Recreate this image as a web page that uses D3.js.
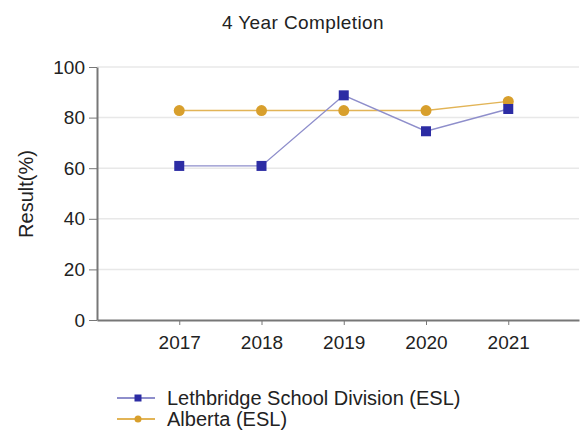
<!DOCTYPE html>
<html>
<head>
<meta charset="utf-8">
<script src="https://cdn.jsdelivr.net/npm/d3@7"></script>
<style>
    body { margin: 0; background: #fff; }
    svg { font-family: 'Liberation Sans', Arial, sans-serif; display: block; }
    .grid line { stroke: #e8e8e8; stroke-width: 1.5px; }
    .axis path, .axis line { stroke: #777; }
    .axis path { stroke-width: 2px; }
    .axis text { font-size: 19px; fill: #222; }
</style>
</head>
<body>
<div id="chart"></div>
<script>
// chart values
const years = [2017, 2018, 2019, 2020, 2021];
const lethbridge = [60.9, 60.9, 88.8, 74.6, 83.4];
const alberta = [82.8, 82.8, 82.8, 82.8, 86.4];
const yTicks = [0, 20, 40, 60, 80, 100];

const series = [
    {name: 'Lethbridge School Division (ESL)', values: lethbridge, line: '#8e8ecb', mark: '#2c2ca4', shape: 'square'},
    {name: 'Alberta (ESL)', values: alberta, line: '#e2b456', mark: '#d89f2c', shape: 'circle'}
];

const width = 584, height = 437;
const margin = {top: 67, right: 5, bottom: 117, left: 97};

const svg = d3.select('#chart').append('svg')
    .attr('width', width)
    .attr('height', height);

// x: one empty slot left of the first year, a bit less to the right
let x = d3.scaleLinear()
    .domain([2016, 2021.86])
    .range([margin.left, width - margin.right]);

let y = d3.scaleLinear()
    .domain([0, 100])
    .range([height - margin.bottom, margin.top]);

svg.append('text')
    .attr('x', 303)
    .attr('y', 29)
    .attr('text-anchor', 'middle')
    .style('font-size', '19px')
    .style('letter-spacing', '0.4px')
    .style('fill', '#222')
    .text('4 Year Completion');

// gridlines
svg.append('g')
    .attr('class', 'grid')
    .selectAll('line')
    .data(yTicks.filter(d => d > 0))
    .enter()
    .append('line')
    .attr('x1', margin.left)
    .attr('x2', width - margin.right)
    .attr('y1', d => y(d))
    .attr('y2', d => y(d));

svg.append('g')
    .attr('class', 'axis')
    .attr('transform', 'translate(' + margin.left + ',0)')
    .call(d3.axisLeft(y).tickValues(yTicks).tickSize(8).tickSizeOuter(0).tickPadding(4));

svg.append('g')
    .attr('class', 'axis')
    .attr('transform', 'translate(0,' + y(0) + ')')
    .call(d3.axisBottom(x).tickValues(years).tickFormat(d3.format('d')).tickSize(5).tickSizeOuter(0).tickPadding(11));

svg.append('text')
    .attr('transform', 'translate(33,194) rotate(-90)')
    .attr('text-anchor', 'middle')
    .style('font-size', '20px')
    .style('fill', '#222')
    .text('Result(%)');

let line = d3.line()
    .x((d, i) => x(years[i]))
    .y(d => y(d));

function drawMark(g, shape, color) {
    if (shape === 'square') {
        g.append('rect')
            .attr('x', -5).attr('y', -5)
            .attr('width', 10).attr('height', 10)
            .style('fill', color);
    } else {
        g.append('circle')
            .attr('r', 5.5)
            .style('fill', color);
    }
}

// draw the Alberta series first so the Lethbridge squares sit on top
series.slice().reverse().forEach(s => {
    svg.append('path')
        .datum(s.values)
        .attr('d', line)
        .style('fill', 'none')
        .style('stroke', s.line)
        .style('stroke-width', 1.4);

    svg.append('g')
        .selectAll('g')
        .data(s.values)
        .enter()
        .append('g')
        .attr('transform', (d, i) => 'translate(' + x(years[i]) + ',' + y(d) + ')')
        .each(function() { drawMark(d3.select(this), s.shape, s.mark); });
});

// legend
let legend = svg.append('g')
    .selectAll('g')
    .data(series)
    .enter()
    .append('g')
    .attr('transform', (d, i) => 'translate(117,' + (398 + i * 21) + ')');

legend.append('line')
    .attr('x1', 0).attr('x2', 38)
    .style('stroke', d => d.line)
    .style('stroke-width', 2);

legend.each(function(d) {
    let m = d3.select(this).append('g').attr('transform', 'translate(21,0)');
    if (d.shape === 'square') {
        m.append('rect').attr('x', -3.5).attr('y', -3.5).attr('width', 7).attr('height', 7).style('fill', d.mark);
    } else {
        m.append('circle').attr('r', 3.5).style('fill', d.mark);
    }
});

legend.append('text')
    .attr('x', 50)
    .attr('dy', '0.36em')
    .style('font-size', '20px')
    .style('fill', '#222')
    .text(d => d.name);
</script>
</body>
</html>
